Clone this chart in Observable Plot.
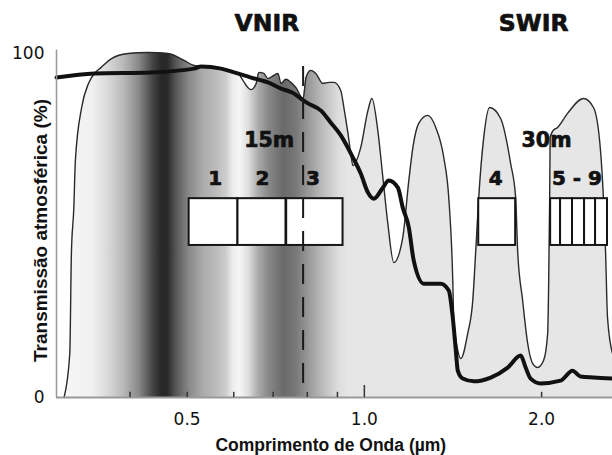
<!DOCTYPE html>
<html><head><meta charset="utf-8">
<script src="https://cdn.jsdelivr.net/npm/d3@7"></script>
<script src="https://cdn.jsdelivr.net/npm/@observablehq/plot@0.6"></script>
<style>body{margin:0;background:#fff}</style>
</head><body><div id="chart"></div>
<script>
// ---- data ----
// envelope of atmospheric transmission (thin outlined shape)
const envelopeWavelength = [0.309,0.316,0.318,0.321,0.323,0.331,0.340,0.348,0.357,0.372,0.397,0.429,0.464,0.494,0.514,0.549,0.571,0.610,0.622,0.634,0.642,0.655,0.662,0.675,0.686,0.700,0.713,0.722,0.736,0.750,0.765,0.787,0.796,0.811,0.827,0.850,0.871,0.888,0.912,0.923,0.938,0.949,0.956,0.986,1.014,1.030,1.054,1.075,1.096,1.122,1.162,1.190,1.209,1.237,1.281,1.322,1.364,1.391,1.413,1.418,1.441,1.458,1.498,1.528,1.546,1.564,1.595,1.632,1.704,1.772,1.807,1.821,1.857,1.894,1.931,1.969,2.016,2.048,2.056,2.064,2.068,2.090,2.129,2.214,2.356,2.450,2.518,2.548,2.568,2.588,2.639];
const envelopeTransmission = [0,12.8,41.9,55,68.9,84.3,91.3,94.2,95.9,98.5,100,100.3,100,98.0,96.5,96.0,95.6,94.2,92.2,90.1,89.5,91.3,94.5,94.2,92.7,93.5,94.2,91.3,92.5,91.6,90.1,86.9,93.0,95.1,94.2,91.3,91.6,91.6,89.2,84.3,76.7,70.5,67.4,72.7,83.4,86.9,77.6,64.0,50.6,39.2,46.5,63.1,72.7,79.7,82.0,78.5,69.8,58.1,34.0,23.3,13.7,11.3,18.6,28.2,42.7,58.1,75.6,84.3,81.1,68.0,58.1,42.7,28.2,15.7,9.9,8.7,10.8,18.6,33.1,57.3,75.5,77.5,78.5,82.6,86.9,84.3,71.8,57.3,42.7,23.3,12.8];
// measured transmission (thick black curve)
const measuredWavelength = [0.300,0.348,0.434,0.514,0.528,0.571,0.601,0.642,0.686,0.722,0.759,0.780,0.802,0.844,0.877,0.912,0.956,0.986,1.014,1.038,1.075,1.100,1.140,1.162,1.190,1.213,1.262,1.348,1.391,1.413,1.430,1.441,1.469,1.534,1.639,1.752,1.843,1.879,1.916,1.992,2.154,2.257,2.329,2.450,2.639];
const measuredTransmission = [93.0,94.2,94.5,95.6,96.2,95.6,94.5,93.0,91.6,89.8,88.4,86.9,85.5,83.4,79.9,76.2,69.8,65.1,59.6,57.8,61.0,63.1,61.0,55.2,49.4,39.8,33.1,33.1,31.1,23.3,13.7,7.8,5.5,4.7,5.8,8.7,12.2,8.7,5.5,4.1,4.9,7.8,6.1,5.8,5.5];
// ASTER band boxes (µm)
const bandStart = [0.504,0.610,0.738,1.564,2.072,2.154,2.257,2.366,2.470];
const bandEnd   = [0.610,0.736,0.920,1.807,2.154,2.257,2.366,2.470,2.588];
const boxLow = 44.2, boxHigh = 57.8;
const bandLabels = ["1","2","3","4","5 - 9"];
const bandLabelWavelength = [0.558,0.671,0.818,1.671,2.297];
const bandLabelLevel = 63.6;
const resolutionLabels = ["15m","30m"];
const resolutionWavelength = [0.689,2.039];
const resolutionLevel = 74.6;
const regionLabels = ["VNIR","SWIR"];
const regionWavelength = [0.683,1.939];
const regionLevel = 108.6;
const dividerWavelength = 0.787;
const dividerRange = [4.1, 97.4];
const xTickValues = [0.5, 1.0, 2.0];
const minorTickValues = [0.4,0.5,0.6,0.7,0.8,0.9,2.0];
const majorTickValues = [1.0];
const yTickValues = [0, 100];
const xDomain = [0.3, 2.639];
const xTitle = "Comprimento de Onda (\u00b5m)";
const xTitleWavelength = 0.877;
const yTitle = "Transmiss\u00e3o atmosf\u00e9rica (%)";

// spectral grey shading (style): wavelength -> grey
const shade = [[0.300,"#f8f8f8"],[0.346,"#f0f0f0"],[0.364,"#dddddd"],[0.389,"#bbbbbb"],[0.415,"#888888"],[0.438,"#444444"],[0.454,"#262626"],[0.464,"#2a2a2a"],[0.479,"#555555"],[0.504,"#888888"],[0.532,"#aaaaaa"],[0.560,"#bbbbbb"],[0.582,"#cccccc"],[0.600,"#eeeeee"],[0.615,"#f6f6f6"],[0.637,"#dddddd"],[0.662,"#aaaaaa"],[0.689,"#888888"],[0.730,"#6a6a6a"],[0.765,"#777777"],[0.805,"#999999"],[0.850,"#bbbbbb"],[0.905,"#dddddd"],[0.941,"#e6e6e6"],[2.639,"#e6e6e6"]];

const envelope = envelopeWavelength.map((w,i)=>({w, t: envelopeTransmission[i]}));
const measured = measuredWavelength.map((w,i)=>({w, t: measuredTransmission[i]}));
const bands = bandStart.map((s,i)=>({s, e: bandEnd[i]}));
const bandText = bandLabels.map((t,i)=>({t, w: bandLabelWavelength[i]}));
const resText = resolutionLabels.map((t,i)=>({t, w: resolutionWavelength[i]}));
const regText = regionLabels.map((t,i)=>({t, w: regionWavelength[i]}));

const bold = {fontFamily:"DejaVu Sans", fontWeight:"bold", fill:"#111", stroke:"#111", strokeWidth:0.7};

const plot = Plot.plot({
  width: 612, height: 455,
  marginLeft: 56, marginRight: 0, marginTop: 53, marginBottom: 58,
  style: {fontFamily: "DejaVu Sans", fontSize: "17px", background: "#fff", color: "#111"},
  x: {type: "log", domain: xDomain},
  y: {domain: [0, 100]},
  marks: [
    Plot.areaY(envelope, {x:"w", y:"t", fill:"url(#spectrum)", curve:"monotone-x"}),
    Plot.lineY(envelope, {x:"w", y:"t", stroke:"#2a2a2a", strokeWidth:1.4, curve:"monotone-x"}),
    Plot.rect(bands, {x1:"s", x2:"e", y1: boxLow, y2: boxHigh, fill:"white", stroke:"#151515", strokeWidth:2}),
    Plot.lineY(measured, {x:"w", y:"t", stroke:"#111", strokeWidth:4, curve:"monotone-x", strokeLinejoin:"round"}),
    Plot.ruleX([dividerWavelength], {y1: dividerRange[0], y2: dividerRange[1], stroke:"#1a1a1a", strokeWidth:2, strokeDasharray:"20,13"}),
    Plot.ruleY([0], {stroke:"#999", strokeWidth:2}),
    Plot.ruleX([xDomain[0]], {y1:0, y2:101, stroke:"#999", strokeWidth:1.5}),
    Plot.ruleX(minorTickValues, {y1:0, y2:1.5, stroke:"#333", strokeWidth:1.5}),
    Plot.ruleX(majorTickValues, {y1:0, y2:3.5, stroke:"#333", strokeWidth:1.5}),
    Plot.axisX(xTickValues, {tickSize:0, tickPadding:15, tickFormat: d3.format(".1f"), label:null}),
    Plot.axisY(yTickValues, {tickSize:0, tickPadding:12, label:null}),
    Plot.text(bandText, {x:"w", y: bandLabelLevel, text:"t", fontSize:20, ...bold}),
    Plot.text(resText, {x:"w", y: resolutionLevel, text:"t", fontSize:20.5, ...bold}),
    Plot.text(regText, {x:"w", y: regionLevel, text:"t", fontSize:23.5, ...bold}),
    Plot.text([xTitle], {x: xTitleWavelength, y: 0, dy: 48, text: d=>d, fontFamily:"Liberation Sans", fontWeight:"bold", fontSize:17.5, fill:"#111"}),
    Plot.text([yTitle], {frameAnchor:"left", textAnchor:"middle", rotate:-90, dx:-16, dy:5, text: d=>d, fontFamily:"Liberation Sans", fontWeight:"bold", fontSize:19, fill:"#111"})
  ]
});

// gradient definition positioned with the plot's own x scale
const xs = plot.scale("x");
const sx = xs.apply ? (v => xs.apply(v)) : d3.scaleLog(xs.domain, xs.range);
const gx0 = sx(shade[0][0]), gx1 = sx(shade[shade.length-1][0]);
const grad = d3.select(plot).insert("defs", ":first-child").append("linearGradient")
  .attr("id","spectrum").attr("gradientUnits","userSpaceOnUse")
  .attr("x1", gx0).attr("x2", gx1).attr("y1", 0).attr("y2", 0);
grad.selectAll("stop").data(shade).join("stop")
  .attr("offset", d => (sx(d[0]) - gx0) / (gx1 - gx0))
  .attr("stop-color", d => d[1]);

document.getElementById("chart").appendChild(plot);
</script>
</body></html>
